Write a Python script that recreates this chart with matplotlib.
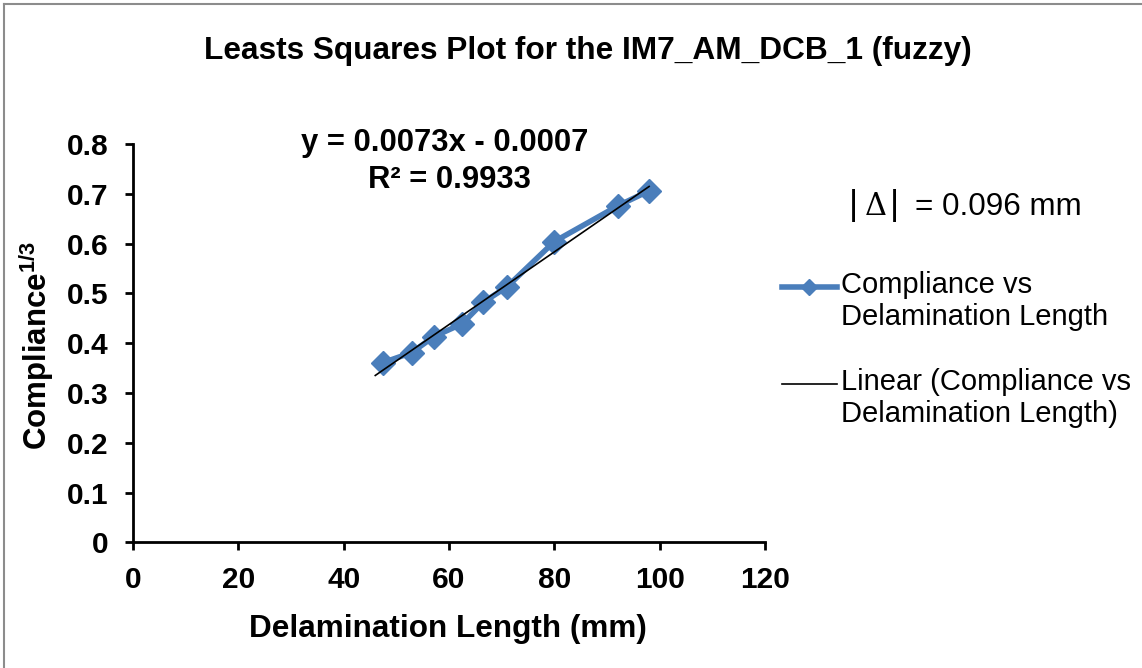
import numpy as np
import matplotlib
matplotlib.use("Agg")
import matplotlib.pyplot as plt
from matplotlib.lines import Line2D
from matplotlib.legend_handler import HandlerLine2D
from matplotlib.ticker import FuncFormatter

# ---- data ----
delam_length = [47.5, 52.9, 57.1, 62.5, 66.5, 71.0, 80.0, 92.1, 98.0]          # mm
compliance_cbrt = [0.361, 0.381, 0.413, 0.439, 0.482, 0.513, 0.604, 0.676, 0.706]
trend_slope = 0.0073
trend_intercept = -0.0007
trend_start = 46.0          # Excel trendline starts a bit before first point
x_ticks = [0, 20, 40, 60, 80, 100, 120]
y_ticks = [0, 0.1, 0.2, 0.3, 0.4, 0.5, 0.6, 0.7, 0.8]

title = "Leasts Squares Plot for the IM7_AM_DCB_1 (fuzzy)"
eq_text = "y = 0.0073x - 0.0007"
r2_text = "R² = 0.9933"
delta_value = "= 0.096 mm"
series_label = "Compliance vs\nDelamination Length"
trend_label = "Linear (Compliance vs\nDelamination Length)"
# ---------------------------------

plt.rcParams["font.family"] = ["Liberation Sans", "DejaVu Sans"]
plt.rcParams["mathtext.fontset"] = "custom"
plt.rcParams["mathtext.rm"] = "Liberation Sans"
plt.rcParams["mathtext.bf"] = "Liberation Sans:bold"

W, H = 1142, 668
fig = plt.figure(figsize=(W / 100, H / 100), dpi=100)


def fx(px):
    return px / W


def fy(py):
    return 1 - py / H


class FirstLineHandler(HandlerLine2D):
    """put the legend handle next to the first line of a 2-line label"""
    def create_artists(self, legend, orig_handle, xdescent, ydescent,
                       width, height, fontsize, trans):
        return super().create_artists(legend, orig_handle, xdescent, ydescent - 22,
                                      width, height, fontsize, trans)


ax = fig.add_axes([fx(133), fy(542.3), fx(765 - 133), (542.3 - 144) / H])

blue = "#4a7ebb"
line_data, = ax.plot(delam_length, compliance_cbrt, color=blue, lw=4,
                     marker="D", markersize=12, label=series_label)
tx = np.array([trend_start, max(delam_length)])
line_trend, = ax.plot(tx, trend_slope * tx + trend_intercept, color="black",
                      lw=1.2, label=trend_label)

ax.set_xlim(0, 120)
ax.set_ylim(0, 0.8)
ax.set_xticks(x_ticks)
ax.set_yticks(y_ticks)
ax.yaxis.set_major_formatter(FuncFormatter(lambda v, p: "0" if v == 0 else f"{v:.1f}"))
for s in ["top", "right"]:
    ax.spines[s].set_visible(False)
for s in ["left", "bottom"]:
    ax.spines[s].set_linewidth(2)
ax.tick_params(direction="out", length=5.8, width=2, labelsize=21.5)
ax.tick_params(axis="x", pad=11)
ax.tick_params(axis="y", pad=12)
for lab in ax.get_xticklabels() + ax.get_yticklabels():
    lab.set_fontweight("bold")

# titles and labels
fig.text(fx(587.5), fy(59.3), title, ha="center", va="baseline",
         fontsize=22.8, fontweight="bold")
fig.text(fx(448), fy(637), "Delamination Length (mm)", ha="center", va="baseline",
         fontsize=22.7, fontweight="bold")
fig.text(fx(37), fy(345), r"Compliance$^{\mathbf{1/3}}$", ha="center", va="center",
         rotation=90, fontsize=22.5, fontweight="bold")

# trendline equation
fig.text(fx(445), fy(151), eq_text, ha="center", va="baseline",
         fontsize=22.3, fontweight="bold")
fig.text(fx(449), fy(188.3), r2_text, ha="center", va="baseline",
         fontsize=22.3, fontweight="bold")

# |Δ| annotation
fig.text(fx(853), fy(215), "|", ha="center", va="baseline", fontsize=25)
fig.text(fx(876), fy(215), "Δ", ha="center", va="baseline", fontsize=22,
         family=["DejaVu Serif"])
fig.text(fx(894), fy(215), "|", ha="center", va="baseline", fontsize=25)
fig.text(fx(915), fy(215), delta_value, ha="left", va="baseline", fontsize=22.6)

# legend
fig.legend(handles=[line_data, line_trend], loc="upper left",
           bbox_to_anchor=(fx(781.7), fy(271)), frameon=False, fontsize=21,
           borderpad=0, borderaxespad=0, handlelength=1.88, handletextpad=0.17,
           labelspacing=1.25, markerscale=0.7,
           handler_map={Line2D: FirstLineHandler()})

# chart area border (only left/top visible in crop)
fig.add_artist(Line2D([fx(4), fx(4)], [0, fy(4)], color="#8c8c8c", lw=1.5))
fig.add_artist(Line2D([fx(4), 1], [fy(4), fy(4)], color="#8c8c8c", lw=1.5))

fig.savefig("out.png", dpi=100)
